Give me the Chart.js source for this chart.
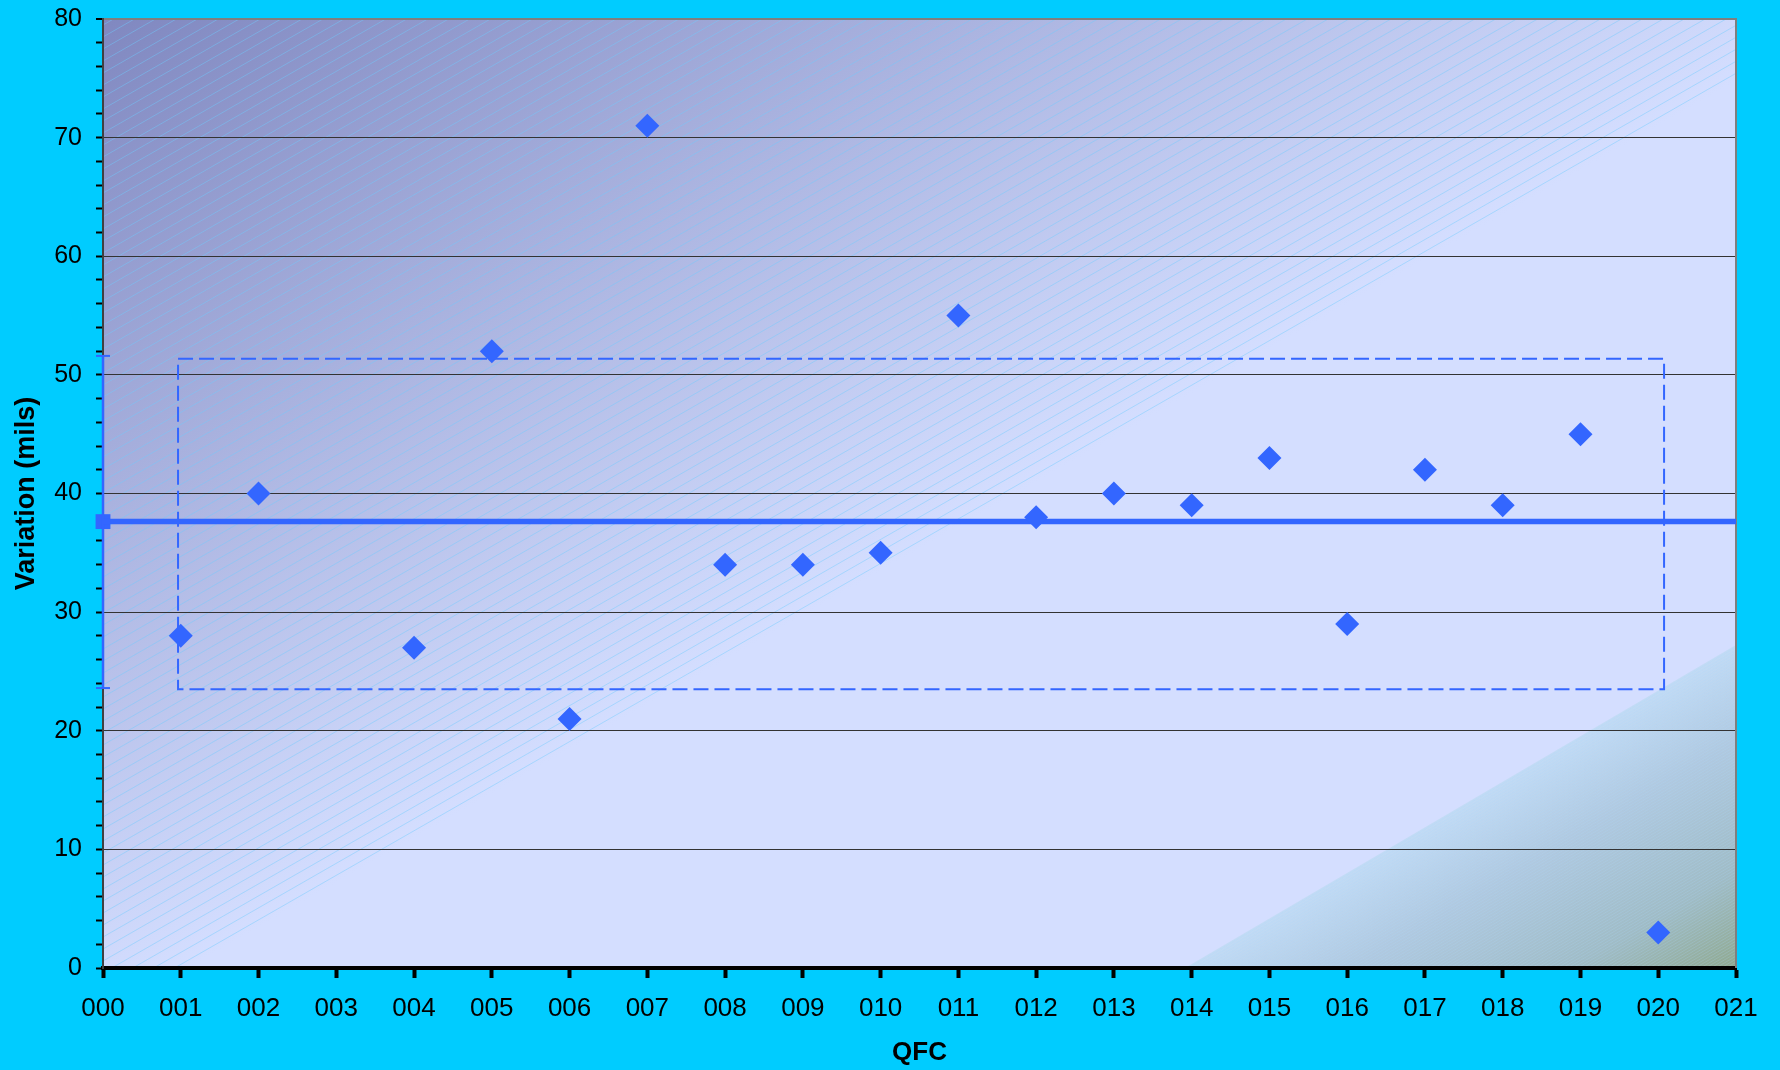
<!DOCTYPE html>
<html><head><meta charset="utf-8">
<script src="https://cdn.jsdelivr.net/npm/chart.js@4"></script>
<style>html,body{margin:0;padding:0;background:#00CCFF;}canvas{display:block}</style>
</head><body>
<canvas id="c" width="1780" height="1070"></canvas>
<script>
// ---- data ----
const qfcLabels = ['000','001','002','003','004','005','006','007','008','009','010','011','012','013','014','015','016','017','018','019','020','021'];
const pointCodes = ['001','002','004','005','006','007','008','009','010','011','012','013','014','015','016','017','018','019','020'];
const variation = [28,40,27,52,21,71,34,34,35,55,38,40,39,43,29,42,39,45,3];
const meanValue = 37.63;
const boxXRange = [0.965, 20.075];   // dashed box horizontal extent (in QFC index units)
const boxRange = [23.5, 51.35];      // dashed box vertical extent
const axisBarRange = [23.6, 51.6];
const yMin = 0, yMax = 80, yMinorStep = 2, yMajorStep = 10;

const FONT = '"Liberation Sans", Arial, sans-serif';
const BLUE = '#3366FF';
const idx = code => qfcLabels.indexOf(code);

const bgPlugin = {
  id: 'bg',
  beforeDraw(chart) {
    const {ctx, chartArea: a, width, height} = chart;
    ctx.save();
    ctx.fillStyle = '#00CCFF';
    ctx.fillRect(0, 0, width, height);
    ctx.beginPath();
    ctx.rect(a.left, a.top, a.right - a.left, a.bottom - a.top);
    ctx.clip();
    const s = 0.573;
    const bx = a.left + 84;
    const nx = 0.497, ny = 0.868;
    const dist = (bx - a.left) * nx + (a.bottom - a.top) * ny;
    const g = ctx.createLinearGradient(a.left, a.top, a.left + dist * nx, a.top + dist * ny);
    g.addColorStop(0, '#8088C0');
    g.addColorStop(1, '#D4DEFF');
    ctx.fillStyle = g;
    ctx.fillRect(a.left, a.top, a.right - a.left, a.bottom - a.top);
    ctx.strokeStyle = 'rgba(110,205,255,0.45)';
    ctx.lineWidth = 1;
    const c0 = a.top + s * a.left;
    const c1 = a.bottom + s * bx;
    ctx.beginPath();
    for (let c = c0 + 6; c < c1; c += 12) {
      ctx.moveTo(a.left, c - s * a.left);
      ctx.lineTo(a.right, c - s * a.right);
    }
    ctx.stroke();
    const s2 = 0.586;
    const tx = a.left + 1082;
    const ty = a.bottom - s2 * (a.right - tx);
    ctx.save();
    ctx.beginPath();
    ctx.moveTo(tx, a.bottom);
    ctx.lineTo(a.right, ty);
    ctx.lineTo(a.right, a.bottom);
    ctx.closePath();
    ctx.clip();
    const mx = 0.506, my = 0.862;
    const d2 = (a.right - tx) * mx;
    const g2 = ctx.createLinearGradient(a.right - d2 * mx, a.bottom - d2 * my, a.right, a.bottom);
    g2.addColorStop(0, '#C2DBF5');
    g2.addColorStop(0.3, '#B0C9E0');
    g2.addColorStop(0.7, '#A0BCC6');
    g2.addColorStop(1, '#90A98F');
    ctx.fillStyle = g2;
    ctx.fillRect(tx, ty, a.right - tx, a.bottom - ty);
    ctx.strokeStyle = 'rgba(175,220,255,0.22)';
    ctx.lineWidth = 1;
    ctx.beginPath();
    const k0 = ty + s2 * a.right;
    for (let c = k0 - 400; c < k0 + 700; c += 3) {
      ctx.moveTo(tx - 10, c - s2 * (tx - 10));
      ctx.lineTo(a.right, c - s2 * a.right);
    }
    ctx.stroke();
    ctx.restore();
    ctx.restore();
  },
  beforeDatasetsDraw(chart) {
    const {ctx, chartArea: a} = chart;
    ctx.save();
    ctx.strokeStyle = '#7F7F7F';
    ctx.lineWidth = 2;
    ctx.beginPath();
    ctx.moveTo(a.right, a.top - 1);
    ctx.lineTo(a.right, a.bottom);
    ctx.stroke();
    ctx.restore();
  }
};

const datasets = [
  {
    label: 'Variation',
    data: pointCodes.map((c, i) => ({x: idx(c), y: variation[i]})),
    showLine: false,
    pointStyle: 'rectRot',
    pointRadius: 12,
    pointHoverRadius: 12,
    pointBackgroundColor: BLUE,
    pointBorderWidth: 0,
    borderColor: BLUE,
    backgroundColor: BLUE
  },
  {
    label: 'Mean',
    data: [{x: 0, y: meanValue}, {x: qfcLabels.length - 1, y: meanValue}],
    borderColor: BLUE,
    borderWidth: 5.5,
    pointRadius: 0,
    fill: false
  },
  {
    label: 'Box',
    data: [
      {x: boxXRange[0], y: boxRange[1]},
      {x: boxXRange[1], y: boxRange[1]},
      {x: boxXRange[1], y: boxRange[0]},
      {x: boxXRange[0], y: boxRange[0]},
      {x: boxXRange[0], y: boxRange[1]}
    ],
    borderColor: BLUE,
    borderWidth: 2,
    borderDash: [15, 6],
    pointRadius: 0,
    fill: false
  },
  {
    label: 'Range',
    data: [{x: 0, y: axisBarRange[0]}, {x: 0, y: axisBarRange[1]}],
    borderColor: BLUE,
    borderWidth: 2.5,
    pointStyle: 'line',
    pointRadius: 7,
    pointBorderWidth: 2,
    pointBorderColor: BLUE,
    clip: false
  },
  {
    label: 'MeanMarker',
    data: [{x: 0, y: meanValue}],
    showLine: false,
    pointStyle: 'rect',
    pointRadius: 10.5,
    pointBackgroundColor: BLUE,
    pointBorderWidth: 0,
    clip: false
  }
];

new Chart(document.getElementById('c'), {
  type: 'line',
  data: {datasets},
  plugins: [bgPlugin],
  options: {
    responsive: false,
    animation: false,
    devicePixelRatio: 1,
    events: [],
    parsing: true,
    layout: {padding: {top: 19, right: 44, left: 0, bottom: 0}},
    plugins: {legend: {display: false}, tooltip: {enabled: false}},
    scales: {
      x: {
        type: 'linear',
        min: 0,
        max: qfcLabels.length - 1,
        afterFit: s => { s.height = 102; s.paddingLeft = 0; s.paddingRight = 0; },
        grid: {drawOnChartArea: false, drawTicks: true, tickLength: 10, tickWidth: 4, tickColor: '#000'},
        border: {display: true, color: '#000', width: 4},
        ticks: {
          stepSize: 1,
          autoSkip: false, maxRotation: 0, minRotation: 0, padding: 15, color: '#000',
          font: {family: FONT, size: 26},
          callback: v => (qfcLabels[v] !== undefined ? qfcLabels[v] : '')
        },
        title: {display: true, text: 'QFC', color: '#000', font: {family: FONT, size: 26, weight: 'bold'}, padding: {top: 0, bottom: 2}}
      },
      y: {
        type: 'linear',
        min: yMin,
        max: yMax,
        afterFit: s => { s.width = 103; s.paddingTop = 0; s.paddingBottom = 0; },
        grid: {
          color: ctx => {
            const v = ctx.tick && ctx.tick.value;
            if (v === yMax) return '#7F7F7F';
            return v % yMajorStep === 0 ? '#333333' : 'rgba(0,0,0,0)';
          },
          lineWidth: ctx => (ctx.tick && ctx.tick.value === yMax) ? 2 : 1,
          drawTicks: true,
          tickLength: 7,
          tickWidth: 2,
          tickColor: '#000'
        },
        border: {display: true, color: '#404040', width: 2},
        ticks: {
          stepSize: yMinorStep,
          autoSkip: false,
          padding: 14,
          color: '#000',
          font: {family: FONT, size: 25},
          callback: v => (v % yMajorStep === 0 ? String(v) : '')
        },
        title: {display: true, text: 'Variation (mils)', color: '#000', font: {family: FONT, size: 27, weight: 'bold'}, padding: {top: 10, bottom: 0}}
      }
    }
  }
});
</script>
</body></html>
